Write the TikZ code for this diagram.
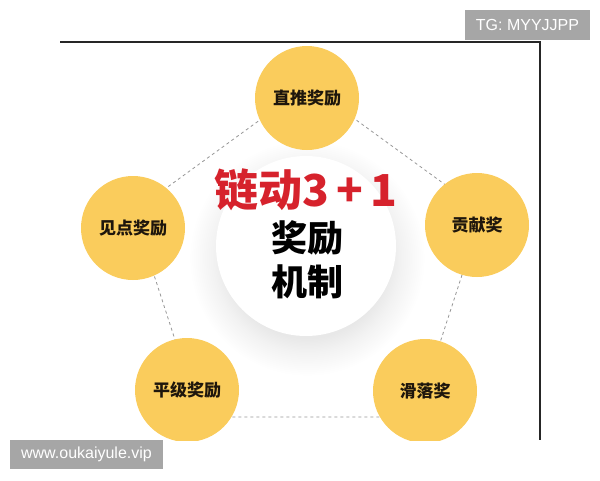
\documentclass[tikz,border=0pt]{standalone}
\usepackage{fontspec}
\setmainfont{Liberation Sans}
\newfontfamily\cjk{Noto Sans CJK SC}
\usetikzlibrary{calc}
\usetikzlibrary{shapes}
\definecolor{awardfill}{RGB}{250,204,92}
\definecolor{awardtext}{RGB}{30,22,12}
\definecolor{chainred}{RGB}{214,34,44}
\definecolor{linkgray}{RGB}{150,150,150}
\definecolor{markgray}{RGB}{166,166,166}
\pgfdeclareradialshading{halo}{\pgfpoint{0bp}{0bp}}{%
	color(0bp)=(black!10);
	color(17bp)=(black!9);
	color(20bp)=(black!5);
	color(25bp)=(white);
	color(50bp)=(white)}
\tikzset{
	award/.style={
		circle,
		fill=awardfill,
		minimum size=104pt,
		inner sep=0pt,
		text=awardtext,
		font=\cjk\bfseries\fontsize{17}{20}\selectfont,
	},
	link/.style={
		draw=linkgray,
		line width=0.8pt,
		dash pattern=on 3pt off 3pt,
	},
	frame/.style={
		draw=black!85,
		line width=1.5pt,
	},
	titlered/.style={
		text=chainred,
		font=\cjk\bfseries\fontsize{44}{48}\selectfont,
	},
	titleblack/.style={
		text=black,
		font=\cjk\bfseries\fontsize{36}{40}\selectfont,
	},
	watermark/.style={
		fill=markgray,
		text=white,
		inner sep=0pt,
		font=\fontsize{16}{18}\selectfont,
	},
}

\begin{document}
\begin{tikzpicture}[x=1pt,y=-1pt]
		\useasboundingbox (0,0) rectangle (600,480);

		\begin{scope}
			\clip (60,42) rectangle (540,440);

			% pentagon corners behind the awards
			\coordinate (ptop) at (308,85);
			\coordinate (pright) at (482.5,211.8);
			\coordinate (pbr) at (415.9,417);
			\coordinate (pbl) at (200.1,417);
			\coordinate (pleft) at (133.5,211.8);
			\draw[link] (ptop) -- (pright) -- (pbr) -- (pbl) -- (pleft) -- cycle;

			% centre disc with soft shadow
			\shade[shading=halo] (307,258) circle (118);
			\node[circle, fill=white, minimum size=180pt] (core) at (306,246) {};

			\node[award] (direct) at (307,98) {直推奖励};
			\node[award] (spot) at (133,228) {见点奖励};
			\node[award] (contrib) at (477,225) {贡献奖};
			\node[award] (level) at (187,390) {平级奖励};
			\node[award] (slide) at (425,391) {滑落奖};

			\node[titlered] (chain) at (306,190) {链动3\,+\,1};
			\node[titleblack] (reward) at (307,238) {奖励};
			\node[titleblack] (scheme) at (307,282) {机制};
		\end{scope}

		\draw[frame] (60,42) -- (540,42) -- (540,440);

		\node[watermark, minimum width=125pt, minimum height=30pt] (tg) at (527.5,25) {TG: MYYJJPP};
		\node[watermark, minimum width=153pt, minimum height=29pt] (site) at (86.5,454.5) {www.oukaiyule.vip};

	\end{tikzpicture}
\end{document}
